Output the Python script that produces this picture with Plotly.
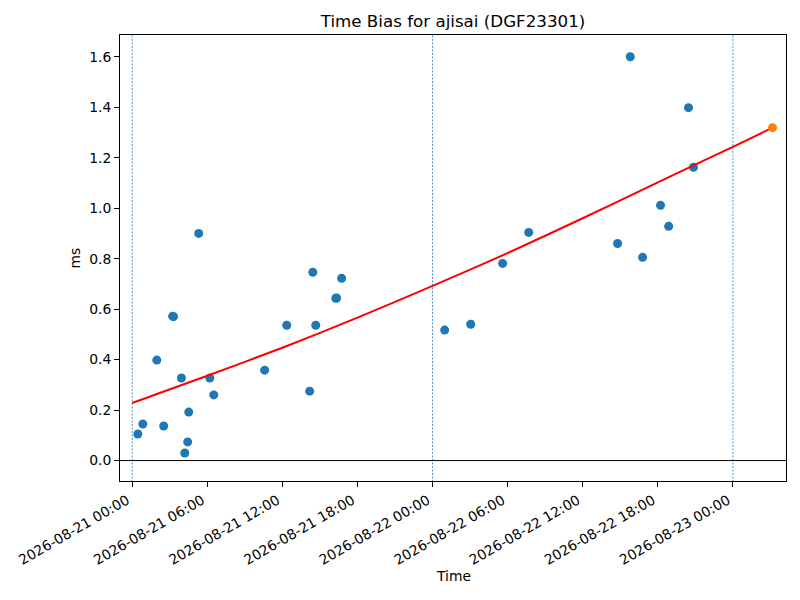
from plotly import graph_objects as go
import pandas as pd

# Messwerte (Zeitpunkt, Bias in ms)
obs_time = [
    "2026-08-21 00:27", "2026-08-21 00:51", "2026-08-21 01:58", "2026-08-21 02:31",
    "2026-08-21 03:14", "2026-08-21 03:18", "2026-08-21 03:56", "2026-08-21 04:12",
    "2026-08-21 04:26", "2026-08-21 04:31", "2026-08-21 05:19", "2026-08-21 06:12",
    "2026-08-21 06:31", "2026-08-21 10:35", "2026-08-21 12:21", "2026-08-21 14:11",
    "2026-08-21 14:26", "2026-08-21 14:40", "2026-08-21 16:16", "2026-08-21 16:20",
    "2026-08-21 16:44", "2026-08-22 00:58", "2026-08-22 03:03", "2026-08-22 05:36",
    "2026-08-22 07:41", "2026-08-22 14:47", "2026-08-22 15:48", "2026-08-22 16:47",
    "2026-08-22 18:13", "2026-08-22 18:52", "2026-08-22 20:27", "2026-08-22 20:51",
]
obs_bias = [
    0.105, 0.145, 0.398, 0.137,
    0.572, 0.570, 0.327, 0.030,
    0.074, 0.192, 0.900, 0.327,
    0.260, 0.358, 0.536, 0.275,
    0.746, 0.536, 0.643, 0.644,
    0.722, 0.517, 0.540, 0.781,
    0.904, 0.860, 1.600, 0.805,
    1.011, 0.928, 1.398, 1.162,
]

# Trendkurve
trend_time = [
    "2026-08-21 00:00", "2026-08-21 06:00", "2026-08-21 12:00", "2026-08-21 18:00",
    "2026-08-22 00:00", "2026-08-22 06:00", "2026-08-22 12:00", "2026-08-22 18:00",
    "2026-08-23 00:00", "2026-08-23 03:10",
]
trend_bias = [0.228, 0.336, 0.447, 0.566, 0.692, 0.822, 0.960, 1.102, 1.243, 1.319]

# Vorhersage
pred_time = ["2026-08-23 03:10"]
pred_bias = [1.319]

day_marks = ["2026-08-21 00:00", "2026-08-22 00:00", "2026-08-23 00:00"]

x_range = ["2026-08-20 23:01:30", "2026-08-23 04:14:30"]
y_range = [-0.081, 1.686]

font = "DejaVu Sans"

fig = go.Figure()

for d in day_marks:
    fig.add_trace(
        go.Scatter(
            x=[d, d], y=[-1, 3], mode="lines",
            line=dict(color="#1f77b4", width=0.8, dash="2px,1.5px"),
            showlegend=False, hoverinfo="skip",
        )
    )

fig.add_trace(
    go.Scatter(
        x=x_range, y=[0, 0], mode="lines",
        line=dict(color="black", width=1),
        showlegend=False, hoverinfo="skip",
    )
)

fig.add_trace(
    go.Scatter(
        x=pd.to_datetime(obs_time), y=obs_bias, mode="markers",
        marker=dict(color="#1f77b4", size=9, line=dict(width=0)),
        showlegend=False,
    )
)

fig.add_trace(
    go.Scatter(
        x=pd.to_datetime(trend_time), y=trend_bias, mode="lines",
        line=dict(color="red", width=2, shape="spline", smoothing=0.6),
        showlegend=False,
    )
)

fig.add_trace(
    go.Scatter(
        x=pd.to_datetime(pred_time), y=pred_bias, mode="markers",
        marker=dict(color="#ff7f0e", size=9, line=dict(width=0)),
        showlegend=False,
    )
)

# die Seite hat 8px Rand, darum 792x592
fig.update_layout(
    width=792,
    height=592,
    margin=dict(l=111.5, r=14.3, t=27, b=118.5),
    paper_bgcolor="white",
    plot_bgcolor="white",
    font=dict(family=font, size=13.9, color="black"),
    title=dict(
        text="Time Bias for ajisai (DGF23301)",
        x=0.5, xref="paper", y=1 - 13 / 592, yref="container",
        xanchor="center", yanchor="middle",
        font=dict(family=font, size=16.7, color="black"),
        automargin=False,
    ),
    xaxis=dict(
        range=x_range,
        tick0="2026-08-21 00:00",
        dtick=6 * 3600 * 1000,
        tickformat="%Y-%m-%d %H:%M",
        tickangle=-30,
        ticklabelshift=-5,
        ticks="outside", ticklen=5, tickwidth=1, tickcolor="black",
        showline=True, linecolor="black", linewidth=1, mirror=True,
        showgrid=False, zeroline=False, automargin=False,
    ),
    yaxis=dict(
        range=y_range,
        tick0=0, dtick=0.2, tickformat=".1f",
        ticks="outside", ticklen=5, tickwidth=1, tickcolor="black",
        showline=True, linecolor="black", linewidth=1, mirror=True,
        showgrid=False, zeroline=False, automargin=False,
    ),
    annotations=[
        dict(text="Time", xref="paper", yref="paper", x=0.5, y=(481.5 - 577) / 446.5,
             showarrow=False, xanchor="center", yanchor="middle"),
        dict(text="ms", xref="paper", yref="paper", x=(74 - 119.5) / 666.2, y=0.5,
             textangle=-90, showarrow=False, xanchor="center", yanchor="middle"),
    ],
)

fig.write_html("out.html")
